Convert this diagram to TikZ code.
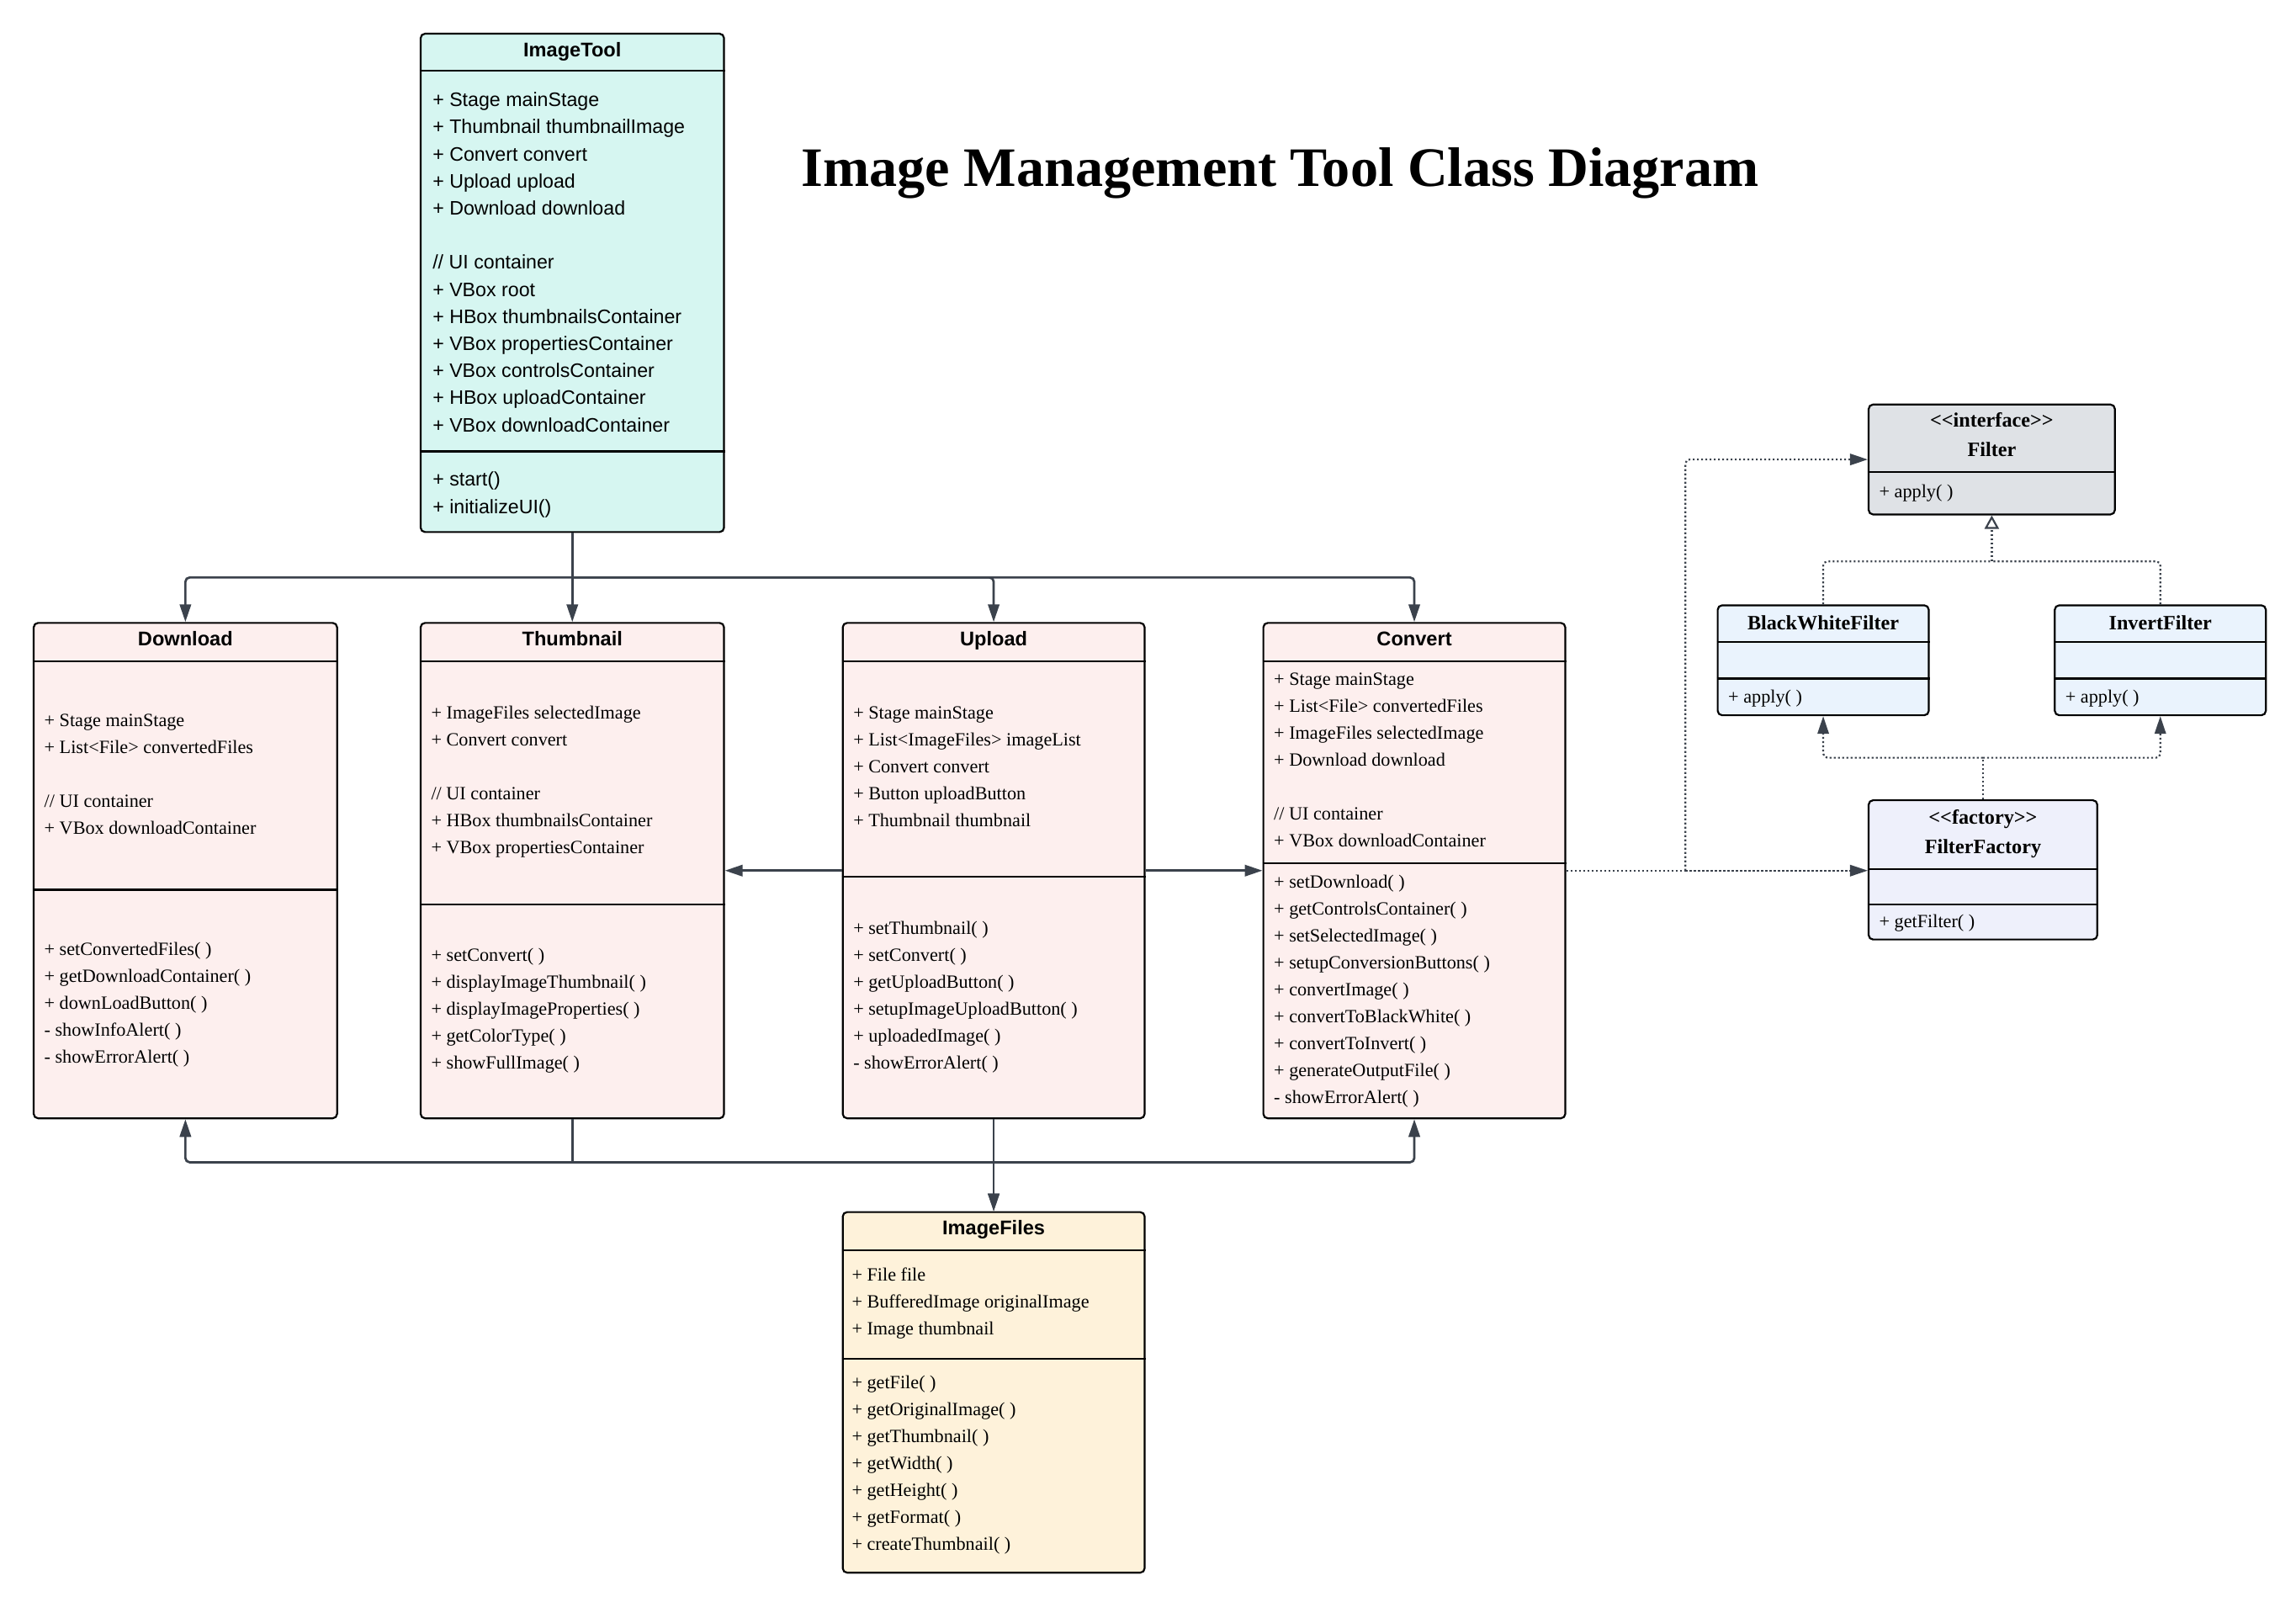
\documentclass[tikz,border=0pt]{standalone}
\usepackage{fontspec}
\newfontfamily\fser{Liberation Serif}
\newfontfamily\fsan{Liberation Sans}
\usetikzlibrary{arrows.meta,fit}
\definecolor{itc}{HTML}{D6F6F1}
\definecolor{pk}{HTML}{FDEFEE}
\definecolor{yl}{HTML}{FEF2DA}
\definecolor{gy}{HTML}{DFE2E6}
\definecolor{bl}{HTML}{EAF3FD}
\definecolor{lv}{HTML}{EEF0FB}
\definecolor{ln}{HTML}{3B424C}
\tikzset{
 cls/.style={draw=black, line width=1.1pt, rounded corners=2.6pt, inner sep=0pt, fill=#1},
 sepl/.style={draw=black, line width=1.1pt},
 hdr/.style={anchor=base, inner sep=0pt, font=\fsan\bfseries\fontsize{11.8}{14}\selectfont},
 fhdr/.style={anchor=base, inner sep=0pt, font=\fser\bfseries\fontsize{12.1}{14}\selectfont},
 txs/.style={anchor=north west, inner sep=0pt, font=\fsan\fontsize{11.6}{16.1}\selectfont},
 txr/.style={anchor=north west, inner sep=0pt, font=\fser\fontsize{11.1}{16}\selectfont},
 arr/.style={-{Triangle[length=10.5pt,width=6.7pt]}},
 conn/.style={draw=ln, line width=1.35pt},
 dotl/.style={draw=ln, line width=1.1pt, dash pattern=on 1.1pt off 1.4pt},
 ttl/.style={anchor=base, inner sep=0pt, font=\fser\bfseries\fontsize{33.1}{38}\selectfont},
}
\begin{document}
\begin{tikzpicture}[x=0.871pt,y=-0.871pt]
\useasboundingbox (0,0) rectangle (1566.6,1096.4);
\fill[white] (0,0) rectangle (1566.6,1096.4);

% title
\node[ttl] (title) at (873.5,127) {Image Management Tool Class Diagram};

% ---------- ImageTool
\node[cls=itc, fit={(287,23) (494,363)}] (it) {};
\coordinate (it1) at (0,48); \coordinate (it2) at (0,308);
\draw[sepl] (it.west |- it1) -- (it.east |- it1);
\draw[sepl] (it.west |- it2) -- (it.east |- it2);
\node[hdr] (itn) at (390.5,38.5) {ImageTool};
\node[txs] (ita) at (295,59.56) {\begin{tabular}{@{}l@{}}+ Stage mainStage\\+ Thumbnail thumbnailImage\\+ Convert convert\\+ Upload upload\\+ Download download\\ \\// UI container\\+ VBox root\\+ HBox thumbnailsContainer\\+ VBox propertiesContainer\\+ VBox controlsContainer\\+ HBox uploadContainer\\+ VBox downloadContainer\end{tabular}};
\node[txs] (itm) at (295,318.56) {\begin{tabular}{@{}l@{}}+ start()\\+ initializeUI()\end{tabular}};

% ---------- Download
\node[cls=pk, fit={(23,425) (230,763)}] (dl) {};
\coordinate (dl1) at (0,451); \coordinate (dl2) at (0,607);
\draw[sepl] (dl.west |- dl1) -- (dl.east |- dl1);
\draw[sepl] (dl.west |- dl2) -- (dl.east |- dl2);
\node[hdr] (dln) at (126.5,440.5) {Download};
\node[txr] (dla) at (30,482.64) {\begin{tabular}{@{}l@{}}+ Stage mainStage\\+ List<File> convertedFiles\\ \\// UI container\\+ VBox downloadContainer\end{tabular}};
\node[txr] (dlm) at (30,638.64) {\begin{tabular}{@{}l@{}}+ setConvertedFiles( )\\+ getDownloadContainer( )\\+ downLoadButton( )\\- showInfoAlert( )\\- showErrorAlert( )\end{tabular}};

% ---------- Thumbnail
\node[cls=pk, fit={(287,425) (494,763)}] (th) {};
\coordinate (th1) at (0,451); \coordinate (th2) at (0,617);
\draw[sepl] (th.west |- th1) -- (th.east |- th1);
\draw[sepl] (th.west |- th2) -- (th.east |- th2);
\node[hdr] (thn) at (390.5,440.5) {Thumbnail};
\node[txr] (tha) at (294,477.64) {\begin{tabular}{@{}l@{}}+ ImageFiles selectedImage\\+ Convert convert\\ \\// UI container\\+ HBox thumbnailsContainer\\+ VBox propertiesContainer\end{tabular}};
\node[txr] (thm) at (294,642.64) {\begin{tabular}{@{}l@{}}+ setConvert( )\\+ displayImageThumbnail( )\\+ displayImageProperties( )\\+ getColorType( )\\+ showFullImage( )\end{tabular}};

% ---------- Upload
\node[cls=pk, fit={(575,425) (781,763)}] (up) {};
\coordinate (up1) at (0,451); \coordinate (up2) at (0,598);
\draw[sepl] (up.west |- up1) -- (up.east |- up1);
\draw[sepl] (up.west |- up2) -- (up.east |- up2);
\node[hdr] (upn) at (678,440.5) {Upload};
\node[txr] (upa) at (582,477.64) {\begin{tabular}{@{}l@{}}+ Stage mainStage\\+ List<ImageFiles> imageList\\+ Convert convert\\+ Button uploadButton\\+ Thumbnail thumbnail\end{tabular}};
\node[txr] (upm) at (582,624.64) {\begin{tabular}{@{}l@{}}+ setThumbnail( )\\+ setConvert( )\\+ getUploadButton( )\\+ setupImageUploadButton( )\\+ uploadedImage( )\\- showErrorAlert( )\end{tabular}};

% ---------- Convert
\node[cls=pk, fit={(862,425) (1068,763)}] (cv) {};
\coordinate (cv1) at (0,451); \coordinate (cv2) at (0,589);
\draw[sepl] (cv.west |- cv1) -- (cv.east |- cv1);
\draw[sepl] (cv.west |- cv2) -- (cv.east |- cv2);
\node[hdr] (cvn) at (965,440.5) {Convert};
\node[txr] (cva) at (869,454.64) {\begin{tabular}{@{}l@{}}+ Stage mainStage\\+ List<File> convertedFiles\\+ ImageFiles selectedImage\\+ Download download\\ \\// UI container\\+ VBox downloadContainer\end{tabular}};
\node[txr] (cvm) at (869,592.64) {\begin{tabular}{@{}l@{}}+ setDownload( )\\+ getControlsContainer( )\\+ setSelectedImage( )\\+ setupConversionButtons( )\\+ convertImage( )\\+ convertToBlackWhite( )\\+ convertToInvert( )\\+ generateOutputFile( )\\- showErrorAlert( )\end{tabular}};

% ---------- ImageFiles
\node[cls=yl, fit={(575,827) (781,1073)}] (imf) {};
\coordinate (if1) at (0,853); \coordinate (if2) at (0,927);
\draw[sepl] (imf.west |- if1) -- (imf.east |- if1);
\draw[sepl] (imf.west |- if2) -- (imf.east |- if2);
\node[hdr] (imfn) at (678,842.5) {ImageFiles};
\node[txr] (imfa) at (581,860.64) {\begin{tabular}{@{}l@{}}+ File file\\+ BufferedImage originalImage\\+ Image thumbnail\end{tabular}};
\node[txr] (imfm) at (581,934.64) {\begin{tabular}{@{}l@{}}+ getFile( )\\+ getOriginalImage( )\\+ getThumbnail( )\\+ getWidth( )\\+ getHeight( )\\+ getFormat( )\\+ createThumbnail( )\end{tabular}};

% ---------- Filter
\node[cls=gy, fit={(1275,276) (1443,351)}] (fil) {};
\coordinate (fl1) at (0,322);
\draw[sepl] (fil.west |- fl1) -- (fil.east |- fl1);
\node[fhdr] (filst) at (1359,291.5) {<<interface>>};
\node[fhdr] (filn) at (1359,311.5) {Filter};
\node[txr] (film) at (1282,326.64) {\begin{tabular}{@{}l@{}}+ apply( )\end{tabular}};

% ---------- BlackWhiteFilter
\node[cls=bl, fit={(1172,413) (1316,488)}] (bw) {};
\coordinate (bw1) at (0,438); \coordinate (bw2) at (0,463);
\draw[sepl] (bw.west |- bw1) -- (bw.east |- bw1);
\draw[sepl] (bw.west |- bw2) -- (bw.east |- bw2);
\node[fhdr] (bwn) at (1244,429.5) {BlackWhiteFilter};
\node[txr] (bwm) at (1179,466.64) {\begin{tabular}{@{}l@{}}+ apply( )\end{tabular}};

% ---------- InvertFilter
\node[cls=bl, fit={(1402,413) (1546,488)}] (ifl) {};
\draw[sepl] (ifl.west |- bw1) -- (ifl.east |- bw1);
\draw[sepl] (ifl.west |- bw2) -- (ifl.east |- bw2);
\node[fhdr] (ifln) at (1474,429.5) {InvertFilter};
\node[txr] (iflm) at (1409,466.64) {\begin{tabular}{@{}l@{}}+ apply( )\end{tabular}};

% ---------- FilterFactory
\node[cls=lv, fit={(1275,546) (1431,641)}] (ff) {};
\coordinate (ff1) at (0,593); \coordinate (ff2) at (0,617);
\draw[sepl] (ff.west |- ff1) -- (ff.east |- ff1);
\draw[sepl] (ff.west |- ff2) -- (ff.east |- ff2);
\node[fhdr] (ffst) at (1353,562.5) {<<factory>>};
\node[fhdr] (ffn) at (1353,582.5) {FilterFactory};
\node[txr] (ffm) at (1282,619.64) {\begin{tabular}{@{}l@{}}+ getFilter( )\end{tabular}};

% ---------- connectors (top bus)
\coordinate (b1) at (390.5,394);
\draw[conn] (it.south) -- (b1);
\draw[conn,arr,rounded corners=2.5pt] (b1) -| (dl.north);
\draw[conn,arr] (b1) -- (th.north);
\draw[conn,arr,rounded corners=2.5pt] (b1) -| (up.north);
\draw[conn,arr,rounded corners=2.5pt] (b1) -| (cv.north);

% horizontal
\coordinate (h1) at (0,594);
\draw[conn,arr] (up.west |- h1) -- (th.east |- h1);
\draw[conn,arr] (up.east |- h1) -- (cv.west |- h1);

% bottom bus
\coordinate (b2) at (390.5,793);
\draw[conn] (th.south) -- (b2);
\draw[conn,arr,rounded corners=2.5pt] (b2) -| (dl.south);
\draw[conn,arr,rounded corners=2.5pt] (b2) -| (cv.south);
\draw[conn,arr] (b2) -| (imf.north);
\draw[conn,arr] (up.south) -- (imf.north);

% dotted to filters
\coordinate (d1) at (1150,594);
\draw[dotl] (cv.east |- d1) -- (d1);
\draw[dotl,arr,rounded corners=2.5pt] (d1) |- (fil.west);
\draw[dotl,arr] (d1) -- (ff.west |- d1);

\coordinate (d2) at (1359,383);
\draw[dotl,rounded corners=2.5pt] (bw.north) |- (d2);
\draw[dotl,rounded corners=2.5pt] (ifl.north) |- (d2);
\draw[dotl,-{Triangle[open,length=8pt,width=8.5pt,line width=1.1pt]}] (d2) -- (fil.south);

\coordinate (d3) at (1353,517);
\draw[dotl] (ff.north) -- (d3);
\draw[dotl,arr,rounded corners=2.5pt] (d3) -| (bw.south);
\draw[dotl,arr,rounded corners=2.5pt] (d3) -| (ifl.south);
\end{tikzpicture}
\end{document}
